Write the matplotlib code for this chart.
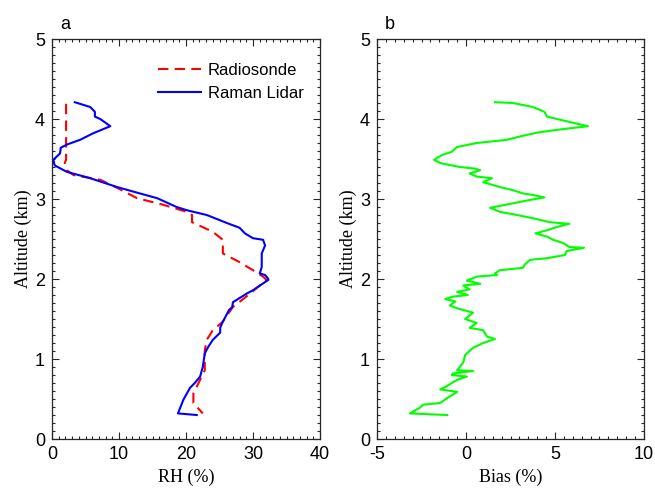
import numpy as np
import matplotlib
matplotlib.use("Agg")
import matplotlib.pyplot as plt
from matplotlib.ticker import MultipleLocator

# radiosonde RH profile
sonde_alt = [4.19, 3.49, 3.45, 3.36, 3.30, 3.24, 3.14, 3.01, 2.93, 2.84, 2.80, 2.71, 2.59, 2.49,
             2.32, 2.21, 2.11, 2.03, 1.99, 1.82, 1.65, 1.46, 1.36, 1.24, 1.11, 0.86, 0.74, 0.57,
             0.45, 0.32]
sonde_rh = [2.1, 2.1, 1.9, 2.2, 3.2, 7.2, 9.7, 12.7, 16.5, 20.1, 20.9, 20.9, 24.0, 25.5,
            25.5, 28.0, 30.0, 31.5, 32.0, 29.6, 27.0, 25.4, 24.0, 23.1, 22.8, 22.8, 22.1, 21.1,
            21.1, 22.5]

# raman lidar RH profile
lidar_alt = [4.21, 4.15, 4.09, 4.03, 4.00, 3.91, 3.82, 3.74, 3.68, 3.64, 3.57, 3.49, 3.42, 3.34,
             3.26, 3.15, 3.07, 3.01, 2.90, 2.86, 2.80, 2.70, 2.64, 2.57, 2.51, 2.49, 2.42, 2.32,
             2.15, 2.07, 2.05, 2.01, 1.99, 1.86, 1.82, 1.71, 1.65, 1.61, 1.45, 1.39, 1.33, 1.24,
             1.15, 1.07, 0.90, 0.78, 0.70, 0.64, 0.49, 0.32, 0.30]
lidar_rh = [3.4, 5.7, 6.4, 6.4, 7.2, 8.7, 6.1, 4.2, 2.2, 1.3, 1.2, 0.2, 0.4, 2.2,
            5.7, 9.7, 13.1, 15.7, 18.6, 20.1, 23.1, 26.1, 28.0, 28.8, 30.0, 31.5, 31.8, 31.3,
            31.3, 31.0, 31.8, 32.2, 32.3, 30.0, 29.1, 27.0, 26.9, 26.4, 25.4, 25.1, 25.1, 24.0,
            23.3, 22.8, 22.5, 22.1, 21.3, 20.6, 19.6, 18.8, 21.6]

# bias between the two
bias_alt = [4.21, 4.20, 4.15, 4.09, 4.03, 3.99, 3.91, 3.87, 3.83, 3.78, 3.74, 3.70, 3.65, 3.59,
            3.55, 3.49, 3.45, 3.40, 3.38, 3.36, 3.32, 3.28, 3.26, 3.21, 3.15, 3.11, 3.07, 3.05,
            3.02, 2.98, 2.94, 2.89, 2.84, 2.81, 2.76, 2.71, 2.69, 2.65, 2.61, 2.57, 2.53, 2.49,
            2.45, 2.40, 2.39, 2.35, 2.30, 2.26, 2.24, 2.18, 2.14, 2.11, 2.07, 2.05, 2.03, 1.98,
            1.94, 1.92, 1.87, 1.84, 1.80, 1.78, 1.75, 1.72, 1.67, 1.63, 1.58, 1.50, 1.45, 1.39,
            1.36, 1.28, 1.25, 1.20, 1.14, 1.05, 0.96, 0.90, 0.86, 0.85, 0.82, 0.80, 0.78, 0.74,
            0.65, 0.62, 0.59, 0.52, 0.45, 0.43, 0.39, 0.34, 0.32, 0.30]
bias = [1.63, 2.64, 3.76, 4.40, 4.55, 5.30, 6.85, 5.30, 4.00, 3.00, 2.30, 0.60, -0.50, -0.80,
        -1.35, -1.80, -1.45, -0.35, 0.50, 0.80, 0.20, 0.60, 1.46, 0.96, 1.90, 2.64, 3.20, 3.76,
        4.40, 3.40, 2.50, 1.35, 1.90, 2.64, 3.76, 4.70, 5.80, 5.10, 4.55, 3.90, 4.55, 4.90,
        5.45, 5.80, 6.63, 5.65, 5.56, 4.55, 3.60, 3.30, 3.20, 1.90, 1.63, 1.74, 0.60, 0.05,
        0.80, -0.15, 0.20, -0.50, 0.10, -0.73, -1.17, -0.60, -0.90, -0.45, 0.40, -0.05, 0.60, 0.20,
        0.96, 1.18, 1.63, 0.96, 0.40, -0.05, -0.15, -0.35, -0.50, 0.40, -0.73, -0.80, 0.05, -0.50,
        -1.17, -1.45, -0.50, -1.00, -1.45, -2.40, -2.60, -3.00, -3.15, -1.05]

plt.rcParams["font.family"] = ["Liberation Sans", "DejaVu Sans"]
plt.rcParams["font.size"] = 13
plt.rcParams["axes.unicode_minus"] = False

fig = plt.figure(figsize=(6.55, 4.95), dpi=100)
ax1 = fig.add_axes([0.0794, 0.1131, 0.4092, 0.8081])
ax2 = fig.add_axes([0.5756, 0.1131, 0.4076, 0.8081])

ax1.plot(sonde_rh, sonde_alt, "--", color="#ff0000", lw=1.5, dashes=(5, 3), label="Radiosonde")
ax1.plot(lidar_rh, lidar_alt, "-", color="#0000ff", lw=1.5, label="Raman Lidar")
ax1.set_xlim(0, 40)
ax1.xaxis.set_major_locator(MultipleLocator(10))
ax1.xaxis.set_minor_locator(MultipleLocator(1))
ax1.set_xlabel("RH (%)", family="Liberation Serif", fontsize=13)
ax1.legend(loc="upper right", bbox_to_anchor=(1.02, 0.995), frameon=False, fontsize=12,
           handlelength=2.6, handletextpad=0.4, borderaxespad=0.9, labelspacing=0.5)

ax2.plot(bias, bias_alt, "-", color="#00ff00", lw=1.5)
ax2.set_xlim(-5, 10)
ax2.xaxis.set_major_locator(MultipleLocator(5))
ax2.xaxis.set_minor_locator(MultipleLocator(0.5))
ax2.set_xlabel("Bias (%)", family="Liberation Serif", fontsize=13)

for ax, tag in [(ax1, "a"), (ax2, "b")]:
    ax.set_ylim(0, 5)
    ax.yaxis.set_major_locator(MultipleLocator(1))
    ax.yaxis.set_minor_locator(MultipleLocator(0.1))
    ax.set_ylabel("Altitude (km)", family="Liberation Serif", fontsize=13, labelpad=2)
    ax.tick_params(which="both", direction="in", top=True, right=True, colors="#262626",
                   labelcolor="black", width=0.8)
    ax.tick_params(which="major", length=5, pad=5)
    ax.tick_params(which="minor", length=2.5)
    for s in ax.spines.values():
        s.set_color("#262626")
        s.set_linewidth(0.9)
    ax.text(0.03, 1.015, tag, transform=ax.transAxes, fontsize=13, va="bottom", ha="left")

fig.savefig("out.png", dpi=100)
